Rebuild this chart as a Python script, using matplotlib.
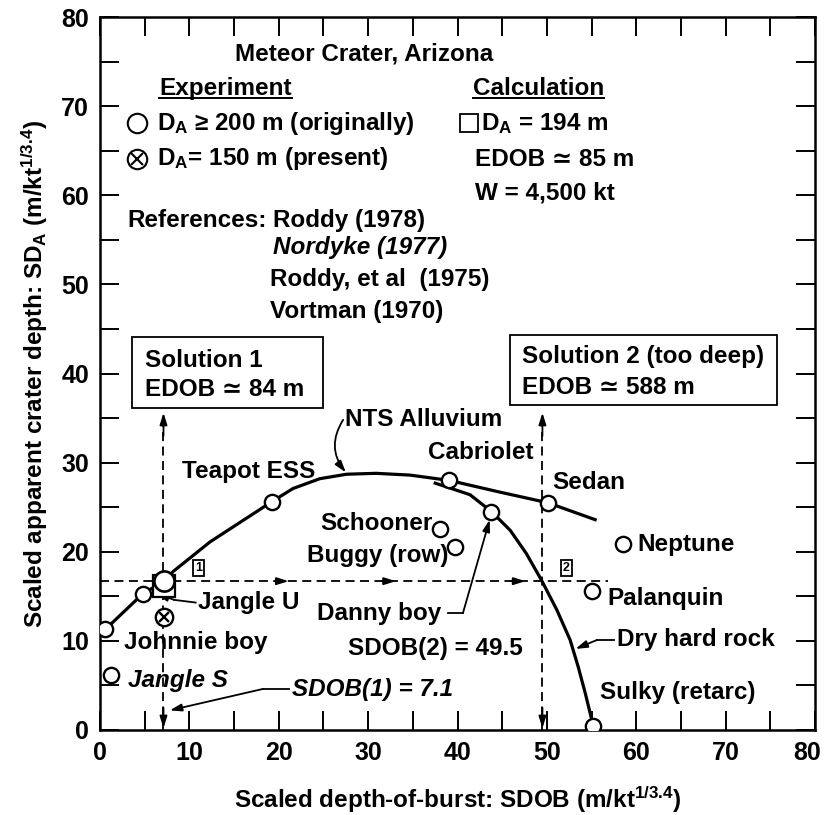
import matplotlib
matplotlib.use("Agg")
import matplotlib.pyplot as plt
from matplotlib.patches import Rectangle
from matplotlib.ticker import FuncFormatter, MultipleLocator

plt.rcParams["font.family"] = ["Liberation Sans", "DejaVu Sans"]
plt.rcParams["font.weight"] = "bold"
plt.rcParams["mathtext.default"] = "regular"

# ---- data (SDOB, SDA) ----
event_names = ["Johnnie boy", "Jangle U", "Jangle S", "Teapot ESS", "Schooner",
               "Buggy (row)", "Cabriolet", "Danny boy", "Sedan", "Neptune",
               "Palanquin", "Sulky (retarc)"]
event_sdob = [0.6, 4.8, 1.2, 19.2, 38.0, 39.7, 39.1, 43.8, 50.1, 58.5, 55.1, 55.2]
event_sda = [11.3, 15.3, 6.2, 25.6, 22.6, 20.5, 28.0, 24.5, 25.5, 20.9, 15.6, 0.4]

# Meteor Crater
meteor_sdob = 7.2
meteor_sda_orig = 16.7     # D_A >= 200 m
meteor_sda_now = 12.7      # D_A = 150 m
calc_sdob = 7.2
calc_sda = 16.2            # D_A = 194 m

# curves
alluvium_x = [0.6, 4.8, 7.2, 8.2, 12.3, 19.2, 21.6, 24.6, 27.6, 30.9, 34.7, 39.1, 44.7, 50.1, 55.4]
alluvium_y = [11.3, 15.3, 16.7, 17.8, 21.1, 25.6, 27.1, 28.2, 28.7, 28.8, 28.6, 28.0, 26.7, 25.5, 23.6]
rock_x = [37.5, 41.4, 43.8, 45.9, 47.7, 49.4, 51.1, 52.6, 53.5, 54.3, 55.2]
rock_y = [27.7, 26.4, 24.5, 22.4, 19.8, 16.8, 13.5, 10.1, 7.1, 4.1, 0.4]

sdob_solutions = [7.1, 49.5]

FS = 17.5

fig = plt.figure(figsize=(8.24, 8.15), dpi=100)
ax = fig.add_axes([0.1214, 0.1043, 0.8677, 0.8748])
ax.set_xlim(0, 80)
ax.set_ylim(0, 80)


def label(x, y, s, size=FS, **kw):
    return ax.text(x, y, s, fontsize=size, fontweight="bold", ha="left",
                   va="center", **kw)


def head(x0, y0, x1, y1, lw=1.3):
    ax.annotate("", xy=(x1, y1), xytext=(x0, y0),
                arrowprops=dict(arrowstyle="-|>,head_length=0.7,head_width=0.22",
                                color="black", lw=lw, shrinkA=0, shrinkB=0))


# curves
ax.plot(alluvium_x, alluvium_y, color="black", lw=2.3, zorder=3,
        solid_joinstyle="round")
ax.plot(rock_x, rock_y, color="black", lw=2.3, zorder=3, solid_joinstyle="round")

# dashed construction lines
dash = (0, (5, 3))
for xs in sdob_solutions:
    ax.plot([xs, xs], [0, 35.6], color="black", lw=1.3, ls=dash, zorder=2)
    head(xs, 33.0, xs, 35.6)
    head(xs, 2.5, xs, 0.2)
ax.plot([0, 56.8], [meteor_sda_orig] * 2, color="black", lw=1.3, ls=dash, zorder=2)
for xa in [19.5, 31.5, 46.0]:
    head(xa, meteor_sda_orig, xa + 1.6, meteor_sda_orig)

# points
ax.plot(event_sdob, event_sda, "o", ms=11, mfc="white", mec="black",
        mew=1.7, ls="none", zorder=5)
ax.plot(calc_sdob, calc_sda, "s", ms=16, mfc="white", mec="black", mew=1.6, zorder=5)
ax.plot(meteor_sdob, meteor_sda_orig, "o", ms=14.5, mfc="white", mec="black",
        mew=1.9, zorder=6)
ax.plot(meteor_sdob, meteor_sda_now, "o", ms=12.5, mfc="white", mec="black",
        mew=1.7, zorder=6)
ax.plot(meteor_sdob, meteor_sda_now, "x", ms=7.5, mec="black", mew=1.7, zorder=7)

# event labels
label(2.7, 9.8, "Johnnie boy")
label(3.1, 5.6, "Jangle S", style="italic")
label(11.0, 14.3, "Jangle U")
label(9.2, 29.0, "Teapot ESS")
label(24.6, 23.2, "Schooner")
label(23.2, 19.6, "Buggy (row)")
label(36.7, 31.1, "Cabriolet")
label(24.3, 13.1, "Danny boy")
label(50.6, 27.8, "Sedan")
label(60.1, 20.8, "Neptune")
label(56.8, 14.8, "Palanquin")
label(57.8, 10.1, "Dry hard rock")
label(55.9, 4.2, "Sulky (retarc)")
label(27.4, 34.8, "NTS Alluvium")
label(27.7, 9.2, "SDOB(2) = 49.5")
label(21.5, 4.5, "SDOB(1) = 7.1", style="italic")

# boxed markers
for bx, txt in [(11.0, "1"), (52.2, "2")]:
    ax.text(bx, 18.2, txt, fontsize=9, fontweight="bold", ha="center", va="center",
            bbox=dict(boxstyle="square,pad=0.15", fc="white", ec="black", lw=1.3),
            zorder=6)

# leaders
ax.plot([10.7, 8.3], [14.3, 14.6], color="black", lw=1.3)
head(8.3, 14.6, 6.3, 15.3)
ax.plot([38.9, 40.6], [13.1, 13.1], color="black", lw=1.3)
head(40.6, 13.1, 43.6, 23.6)
ax.plot([57.5, 55.6], [10.1, 10.1], color="black", lw=1.3)
head(55.6, 10.1, 53.2, 9.1)
ax.plot([21.1, 18.2], [4.6, 4.6], color="black", lw=1.3)
head(18.2, 4.6, 7.8, 2.2)
ax.annotate("", xy=(27.5, 28.9), xytext=(27.2, 34.8),
            arrowprops=dict(arrowstyle="-|>,head_length=0.7,head_width=0.22",
                            color="black", lw=1.3, shrinkA=0, shrinkB=0,
                            connectionstyle="arc3,rad=0.35"))

# solution boxes
ax.add_patch(Rectangle((3.6, 36.1), 21.3, 8.0, fc="white", ec="black", lw=1.3, zorder=4))
ax.add_patch(Rectangle((45.9, 36.5), 29.8, 7.8, fc="white", ec="black", lw=1.3, zorder=4))
label(5.0, 41.5, "Solution 1", zorder=5)
label(5.0, 38.2, "EDOB ≃ 84 m", zorder=5)
label(47.2, 41.9, "Solution 2 (too deep)", zorder=5)
label(47.2, 38.4, "EDOB ≃ 588 m", zorder=5)

# legend / notes block
label(15.1, 75.8, "Meteor Crater, Arizona")
t_exp = label(6.6, 72.0, "Experiment")
t_calc = label(41.7, 72.0, "Calculation")
ax.plot(4.1, 68.1, "o", ms=14, mfc="white", mec="black", mew=1.5)
ax.plot(4.1, 64.1, "o", ms=14, mfc="white", mec="black", mew=1.5)
ax.plot(4.1, 64.1, "x", ms=8.5, mec="black", mew=1.5)
ax.plot(41.3, 68.1, "s", ms=13, mfc="white", mec="black", mew=1.3)
label(6.4, 68.1, "D$_A$ ≥ 200 m (originally)")
label(6.4, 64.1, "D$_A$= 150 m (present)")
label(42.6, 68.1, "D$_A$ = 194 m")
label(42.0, 64.0, "EDOB ≃ 85 m")
label(42.0, 60.3, "W = 4,500 kt")
label(3.1, 57.2, "References:")
label(19.4, 57.2, "Roddy (1978)")
label(19.4, 54.1, "Nordyke (1977)", style="italic")
label(19.0, 50.6, "Roddy, et al  (1975)")
label(19.0, 47.0, "Vortman (1970)")

# underline the two column heads
fig.canvas.draw()
inv = ax.transData.inverted()
for t in (t_exp, t_calc):
    bb = t.get_window_extent()
    (x0, y0), (x1, _) = inv.transform([(bb.x0, bb.y0), (bb.x1, bb.y0)])
    ax.plot([x0, x1], [y0 + 0.2, y0 + 0.2], color="black", lw=1.4)

# axes styling
ax.xaxis.set_major_locator(MultipleLocator(10))
ax.yaxis.set_major_locator(MultipleLocator(10))
ax.xaxis.set_minor_locator(MultipleLocator(5))
ax.yaxis.set_minor_locator(MultipleLocator(5))
# the last x label sits pulled in from the figure edge, drawn separately below
ax.xaxis.set_major_formatter(FuncFormatter(lambda v, p: "" if v >= 80 else f"{v:.0f}"))
ax.tick_params(which="both", direction="in", length=14, width=1.4,
               top=True, right=True, labelsize=18, pad=8)
for lab in ax.get_xticklabels() + ax.get_yticklabels():
    lab.set_fontweight("bold")
ax.annotate("80", xy=(80, 0), xycoords="data", xytext=(-6, -8),
            textcoords="offset points", ha="center", va="top",
            fontsize=18, fontweight="bold", annotation_clip=False)
for sp in ax.spines.values():
    sp.set_linewidth(1.8)

ax.set_xlabel("Scaled depth-of-burst: SDOB (m/kt$^{1/3.4}$)", fontsize=FS,
              fontweight="bold", labelpad=14)
ax.set_ylabel("Scaled apparent crater depth: SD$_A$ (m/kt$^{1/3.4}$)", fontsize=FS,
              fontweight="bold", labelpad=8)

fig.savefig("out.png", dpi=100)
